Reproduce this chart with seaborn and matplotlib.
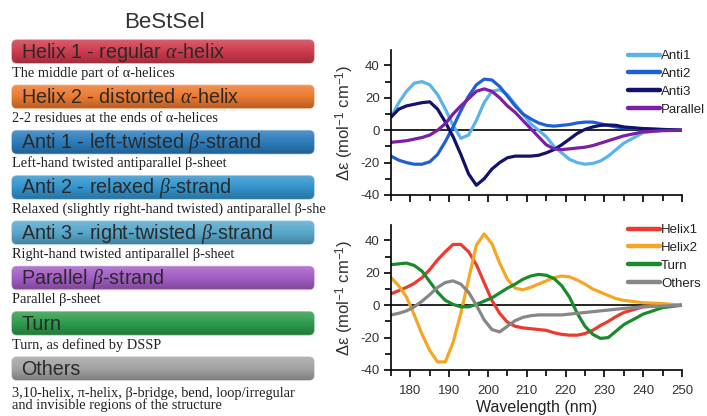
import numpy as np
import pandas as pd
import seaborn as sns
import matplotlib
matplotlib.use("Agg")
import matplotlib.pyplot as plt
from matplotlib.patches import FancyBboxPatch, Rectangle
from matplotlib.colors import LinearSegmentedColormap, to_rgb
from matplotlib.ticker import MultipleLocator
from matplotlib.lines import Line2D

# ---------------- data ----------------
wavelength = [175, 177, 179, 181, 183, 185, 187, 189, 191, 193, 195, 197, 199, 201, 203,
              205, 207, 209, 211, 213, 215, 217, 219, 221, 223, 225, 227, 229, 231, 233,
              235, 240, 245, 250]

anti1 = [8, 17, 24, 29, 30, 28, 22, 13, 3, -5, -3, 6, 17, 24, 25,
         22, 16, 10, 4, 0, -4, -10, -14, -18, -20, -21, -20.5, -19, -16, -12,
         -8, -1.5, 0, 0]
anti2 = [-16, -18.5, -20, -21, -21, -19.5, -15, -7, 2, 12, 21, 28, 31.5, 31, 27,
         21, 15, 10, 7, 4.5, 3, 2.5, 3, 3.5, 4.5, 5, 5, 4, 3, 2,
         1.5, 0.8, 0.3, 0]
anti3 = [8, 13, 15, 16, 17, 17.5, 13, 5, -4, -15, -27, -34, -30, -24, -20,
         -17, -16, -16, -16, -15.5, -14, -12, -9, -5.5, -2, 0.5, 2, 3, 3.2, 3,
         2, 1, 0.5, 0]
parallel = [-7.5, -7, -6.5, -5.5, -4.5, -3, 0, 4, 10, 15, 19.5, 24, 25.5, 24, 20,
            15, 11, 6, 1, -4, -9, -11.5, -12, -11.5, -11, -10.5, -9.5, -8, -6.5, -5,
            -3.5, -1, -0.3, 0]

helix1 = [7, 9, 11, 13.5, 17, 22, 28, 33, 37.5, 37.5, 33, 25, 14, 3, -5,
          -10.5, -13, -14, -14.5, -15, -15.5, -17, -18, -18.5, -18.5, -17.5, -15.5, -12.5, -10, -7,
          -4.5, -1, 0, 0]
helix2 = [17, 12, 5, -6, -18, -28, -35, -35, -23, -5, 16, 37, 44, 38, 26,
          16, 10.5, 9.5, 11, 13, 15, 17, 18, 17.5, 15.5, 13, 10, 8, 6, 4,
          3, 1.5, 1, 0]
turn = [25, 25.5, 26, 24.5, 21, 14.5, 8, 3, 0.5, -1, -1, 0.5, 2.5, 4.5, 7.5,
        10.5, 13, 16, 18, 19, 18.5, 16.5, 12, 5, -5, -13, -18, -20.5, -20, -16,
        -12, -5.5, -1.5, 0]
others = [-6, -5, -3.5, -1, 2.5, 6.5, 11, 14, 15, 13, 8, 0, -9, -15, -16.5,
          -13, -9.5, -7.5, -6.5, -6, -6, -6, -6, -5.5, -5, -4.5, -4, -3.5, -3, -2.5,
          -2, -1, -0.5, 0]

top_series = ["Anti1", "Anti2", "Anti3", "Parallel"]
top_values = [anti1, anti2, anti3, parallel]
top_colors = ["#5bb3ea", "#1f5fd6", "#12126e", "#7b1fa8"]

bot_series = ["Helix1", "Helix2", "Turn", "Others"]
bot_values = [helix1, helix2, turn, others]
bot_colors = ["#ec3b2e", "#f5a623", "#1b8a2c", "#878787"]

x_ticks = [180, 190, 200, 210, 220, 230, 240, 250]
y_ticks = [-40, -20, 0, 20, 40]

panel_title = "BeStSel"
box_labels = [r"Helix 1 - regular $\alpha$-helix",
              r"Helix 2 - distorted $\alpha$-helix",
              r"Anti 1 - left-twisted $\beta$-strand",
              r"Anti 2 - relaxed $\beta$-strand",
              r"Anti 3 - right-twisted $\beta$-strand",
              r"Parallel $\beta$-strand",
              "Turn",
              "Others"]
box_descs = ["The middle part of α-helices",
             "2-2 residues at the ends of α-helices",
             "Left-hand twisted antiparallel β-sheet",
             "Relaxed (slightly right-hand twisted) antiparallel β-sheet",
             "Right-hand twisted antiparallel β-sheet",
             "Parallel β-sheet",
             "Turn, as defined by DSSP",
             "3,10-helix, π-helix, β-bridge, bend, loop/irregular\nand invisible regions of the structure"]
box_colors = ["#cf3a4e", "#ec7a30", "#2b7bbb", "#3394cc", "#58a8cc", "#a35ec6", "#2d9b4b", "#a3a3a3"]

# ---------------- style ----------------
sns.set_theme(style="white")
plt.rcParams["font.family"] = ["Liberation Sans", "DejaVu Sans"]
plt.rcParams["mathtext.fontset"] = "custom"
plt.rcParams["mathtext.rm"] = "Liberation Sans"
plt.rcParams["mathtext.it"] = "Liberation Serif:italic"
plt.rcParams["mathtext.bf"] = "Liberation Sans:bold"
plt.rcParams["axes.unicode_minus"] = False

W, H = 707, 416
fig = plt.figure(figsize=(W / 100, H / 100), dpi=100)
fig.patch.set_facecolor("white")

# ---------------- left panel ----------------
axL = fig.add_axes([0, 0, 1, 1], zorder=0)
axL.set_facecolor("none")


def shade(c, f):
    r = np.array(to_rgb(c))
    if f >= 0:
        return tuple(r + (1 - r) * f)
    return tuple(r * (1 + f))


axL.text(164, 23, panel_title, fontsize=16, ha="center", va="center", color="#333333")
for i, (lab, desc, col) in enumerate(zip(box_labels, box_descs, box_colors)):
    top = 40 + 45.3 * i
    patch = FancyBboxPatch((12, top), 302, 23, boxstyle="round,pad=0,rounding_size=5",
                           fc=col, ec=shade(col, 0.45), lw=1.0, zorder=1)
    axL.add_patch(patch)
    cmap = LinearSegmentedColormap.from_list("g", [shade(col, 0.18), col, shade(col, -0.22)])
    grad = np.linspace(0, 1, 60)[:, None]
    im = axL.imshow(grad, extent=(12, 314, top + 23, top), origin="upper", cmap=cmap,
                    aspect="auto", zorder=1.5, interpolation="bilinear")
    im.set_clip_path(patch)
    axL.text(21, top + 12.5, lab, fontsize=14.2, ha="left", va="center",
             color="#2a2a2a", zorder=3)
    if "\n" in desc:
        t = axL.text(12, top + 42.5, desc, fontsize=10.4, family="Liberation Serif",
                     ha="left", va="center", color="#222222", linespacing=0.9)
    else:
        t = axL.text(12, top + 33, desc, fontsize=10.4, family="Liberation Serif",
                     ha="left", va="center", color="#222222")
    clip_rect = Rectangle((0, 0), 326, H, transform=axL.transData)
    t.set_clip_on(True)
    t.set_clip_path(clip_rect)
axL.set_xlim(0, W)
axL.set_ylim(H, 0)
axL.axis("off")

# ---------------- right plots ----------------
def make_df(names, values):
    frames = []
    for n, v in zip(names, values):
        frames.append(pd.DataFrame({"wavelength": wavelength, "value": v, "series": n}))
    return pd.concat(frames, ignore_index=True)


def style_axes(ax, show_xlabels):
    ax.set_facecolor("none")
    ax.axhline(0, color="black", lw=1.2, zorder=1)
    ax.set_xlim(175, 250)
    ax.set_ylim(-40, 49.5)
    ax.set_xticks(x_ticks)
    ax.set_yticks(y_ticks)
    ax.xaxis.set_minor_locator(MultipleLocator(5))
    ax.yaxis.set_minor_locator(MultipleLocator(10))
    for s in ["top", "right"]:
        ax.spines[s].set_visible(False)
    for s in ["left", "bottom"]:
        ax.spines[s].set_color("black")
        ax.spines[s].set_linewidth(1.2)
    ax.tick_params(which="both", direction="out", bottom=True, left=True,
                   color="black", width=1.2, labelcolor="#333333", labelsize=9.5)
    ax.tick_params(which="major", length=5)
    ax.tick_params(which="minor", length=4)
    ax.tick_params(axis="x", pad=6, labelbottom=show_xlabels)
    ax.tick_params(axis="y", pad=3)
    ax.set_ylabel(r"Δε (mol$^{\mathregular{-1}}$ cm$^{\mathregular{-1}}$)", fontsize=12,
                  color="#333333", labelpad=3)


ax1 = fig.add_axes([391 / W, 1 - 195 / H, 291 / W, 145 / H], zorder=2)
sns.lineplot(data=make_df(top_series, top_values), x="wavelength", y="value", hue="series",
             palette=dict(zip(top_series, top_colors)), hue_order=top_series,
             linewidth=2.3, ax=ax1, legend=False, sort=False)
style_axes(ax1, False)
ax1.set_xlabel("")

ax2 = fig.add_axes([391 / W, 1 - 370 / H, 291 / W, 145 / H], zorder=2)
sns.lineplot(data=make_df(bot_series, bot_values), x="wavelength", y="value", hue="series",
             palette=dict(zip(bot_series, bot_colors)), hue_order=bot_series,
             linewidth=2.3, ax=ax2, legend=False, sort=False)
style_axes(ax2, True)
ax2.set_xlabel("Wavelength (nm)", fontsize=11.5, color="#222222", labelpad=2)

for ax, names, cols, ytop in [(ax1, top_series, top_colors, 50), (ax2, bot_series, bot_colors, 224)]:
    handles = [Line2D([], [], color=c, lw=3.2) for c in cols]
    leg = ax.legend(handles, names, loc="upper left",
                    bbox_to_anchor=(628 / W, 1 - ytop / H), bbox_transform=fig.transFigure,
                    frameon=False, fontsize=9.5, handlelength=2.4, handletextpad=0.1,
                    labelspacing=0.42, borderpad=0, borderaxespad=0)
    for t in leg.get_texts():
        t.set_color("#222222")

fig.savefig("out.png", dpi=100, facecolor="white")
